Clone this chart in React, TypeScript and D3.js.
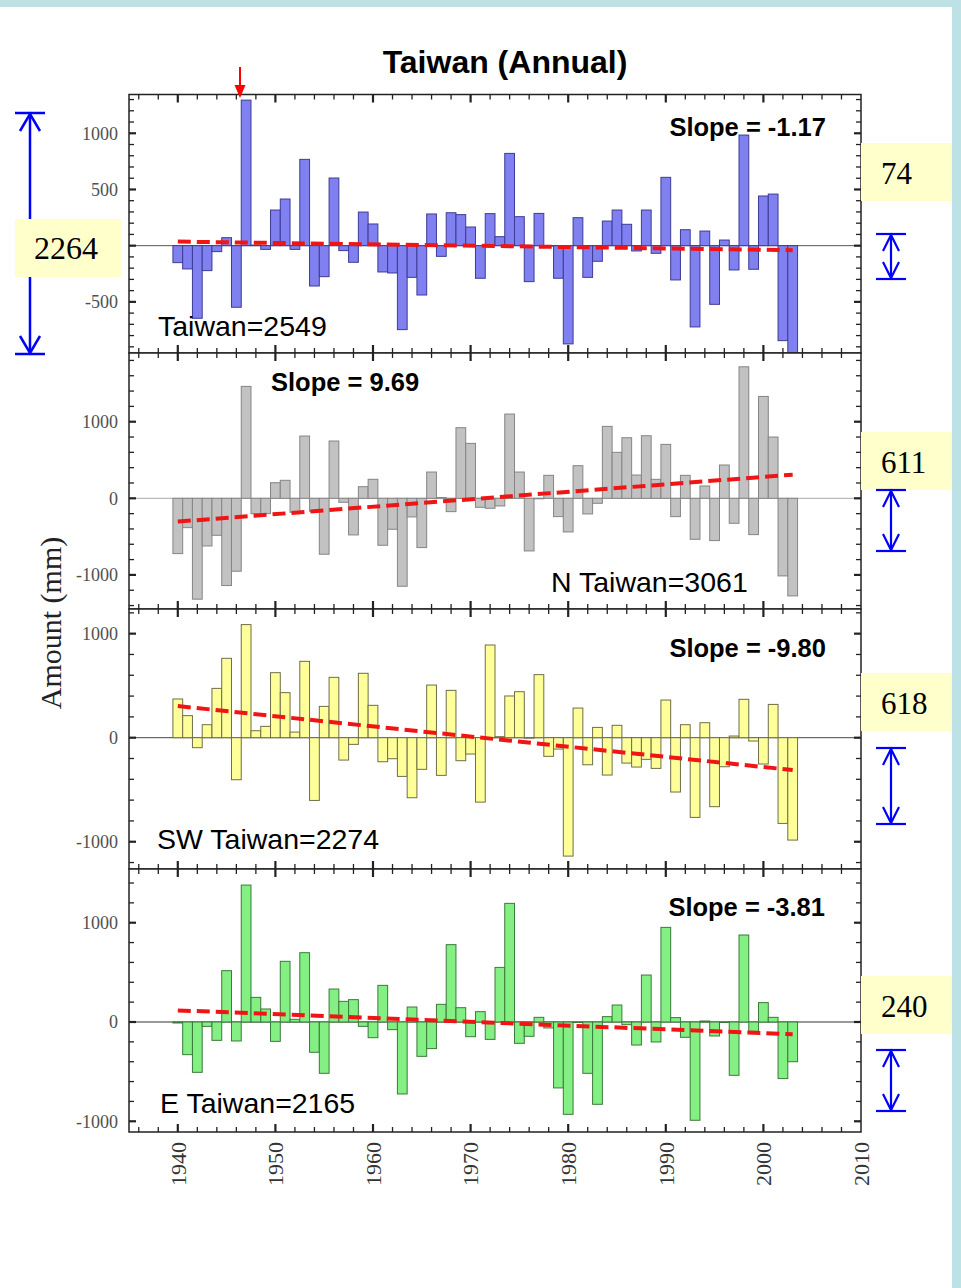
import React from 'react';
import * as d3 from 'd3';

// ---------------- data ----------------
const years = [
  1940, 1941, 1942, 1943, 1944, 1945, 1946, 1947, 1948, 1949,
  1950, 1951, 1952, 1953, 1954, 1955, 1956, 1957, 1958, 1959,
  1960, 1961, 1962, 1963, 1964, 1965, 1966, 1967, 1968, 1969,
  1970, 1971, 1972, 1973, 1974, 1975, 1976, 1977, 1978, 1979,
  1980, 1981, 1982, 1983, 1984, 1985, 1986, 1987, 1988, 1989,
  1990, 1991, 1992, 1993, 1994, 1995, 1996, 1997, 1998, 1999,
  2000, 2001, 2002, 2003,
];

const taiwanValues = [
  -151, -207, -646, -222, -53, 71, -548, 1295, 5, -33,
  317, 415, -33, 768, -359, -276, 602, -44, -148, 299,
  193, -234, -243, -747, -282, -439, 282, -95, 293, 276,
  166, -290, 285, 80, 821, 258, -320, 287, 0, -290,
  -874, 249, -282, -139, 219, 317, 190, -47, 317, -68,
  608, -305, 142, -723, 130, -522, 50, -216, 984, -210,
  442, 459, -845, -1000,
];

const northValues = [
  -722, -383, -1317, -622, -483, -1139, -952, 1461, -200, -200,
  204, 235, -183, 813, -170, -730, 748, -52, -478, 152,
  248, -613, -404, -1148, -243, -643, 343, 10, -174, 922,
  717, -117, -130, -100, 1100, 343, -687, 0, 300, -239,
  -439, 426, -204, -65, 939, 600, 791, 304, 817, 248,
  704, -239, 300, -535, 161, -552, 435, -326, 1717, -474,
  1330, 800, -1013, -1274,
];

const southwestValues = [
  372, 212, -96, 125, 474, 763, -404, 1087, 67, 109,
  625, 433, 54, 734, -603, 301, 580, -215, -64, 619,
  311, -231, -202, -372, -577, -304, 506, -362, 455, -221,
  -157, -619, 891, 10, 401, 442, 0, 606, -179, -109,
  -1138, 285, -260, 99, -359, 119, -244, -282, -208, -295,
  362, -522, 125, -766, 144, -663, -279, 16, 369, -32,
  -253, 320, -824, -984,
];

const eastValues = [
  -10, -329, -507, -44, -185, 517, -191, 1379, 248, 131,
  -195, 611, 27, 698, -305, -517, 332, 208, 225, -44,
  -158, 369, -77, -725, 151, -346, -268, 178, 779, 144,
  -148, 104, -175, 550, 1195, -215, -144, 47, -60, -664,
  -930, 0, -517, -829, 54, 171, -27, -232, 473, -201,
  953, 44, -154, -990, 10, -141, 0, -537, 876, -94,
  195, 47, -570, -400,
];

const regionLabels = ['Taiwan=2549', 'N Taiwan=3061', 'SW Taiwan=2274', 'E Taiwan=2165'];
const slopeLabels = ['Slope = -1.17', 'Slope = 9.69', 'Slope = -9.80', 'Slope = -3.81'];
const trendStart = [36, -304, 304, 117];
const trendEnd = [-40, 309, -311, -124];
const yTickLabels = [
  [1000, 500, -500],
  [1000, 0, -1000],
  [1000, 0, -1000],
  [1000, 0, -1000],
];
const xTickLabels = [1940, 1950, 1960, 1970, 1980, 1990, 2000, 2010];
const rangeLabel = '2264';
const changeLabels = ['74', '611', '618', '240'];
const chartTitle = 'Taiwan (Annual)';
const yAxisTitle = 'Amount (mm)';

const seriesList = [taiwanValues, northValues, southwestValues, eastValues];

// ---------------- layout ----------------
const W = 961;
const H = 1288;
const X0 = 129;
const X1 = 861;
const SANS = '"Liberation Sans", Arial, sans-serif';
const SERIF = '"Liberation Serif", "Times New Roman", serif';

const panelLayout = [
  { top: 94.5, bottom: 353, domain: [-955, 1345], minor: 100, major: 500,
    fill: '#8080f0', stroke: '#3c3c96', zero: '#555',
    slope: { x: 826, y: 136, anchor: 'end' }, region: { x: 158, y: 336 },
    arrow: [234, 279] },
  { top: 353, bottom: 609, domain: [-1445, 1897], minor: 200, major: 1000,
    fill: '#c2c2c2', stroke: '#858585', zero: '#aaa',
    slope: { x: 271, y: 391, anchor: 'start' }, region: { x: 551, y: 592 },
    arrow: [490, 551] },
  { top: 609, bottom: 869, domain: [-1262, 1237], minor: 200, major: 1000,
    fill: '#ffff99', stroke: '#6e6e48', zero: '#444',
    slope: { x: 826, y: 657, anchor: 'end' }, region: { x: 157, y: 849 },
    arrow: [748, 824] },
  { top: 869, bottom: 1132, domain: [-1108, 1541], minor: 200, major: 1000,
    fill: '#84f084', stroke: '#3a7a3a', zero: '#333',
    slope: { x: 825, y: 916, anchor: 'end' }, region: { x: 160, y: 1113 },
    arrow: [1050, 1111] },
];
const changeBoxTops = [143, 432, 673, 976];

const x = d3.scaleLinear().domain([1935, 2010]).range([X0, X1]);
const xMinorTicks = d3.range(1936, 2010, 2);

function Panel({ idx }: { idx: number }) {
  const L = panelLayout[idx];
  const values = seriesList[idx];
  const y = d3.scaleLinear().domain(L.domain).range([L.bottom, L.top]);
  const clipId = `clip${idx}`;
  const yMinor = d3.range(Math.ceil(L.domain[0] / L.minor) * L.minor, L.domain[1], L.minor);
  const trend = d3.line<[number, number]>().x((d) => x(d[0])).y((d) => y(d[1]));
  const trendPts: [number, number][] = [
    [years[0], trendStart[idx]],
    [years[years.length - 1], trendEnd[idx]],
  ];
  return (
    <g>
      <defs>
        <clipPath id={clipId}>
          <rect x={X0} y={L.top} width={X1 - X0} height={L.bottom - L.top} />
        </clipPath>
      </defs>
      <rect x={X0} y={L.top} width={X1 - X0} height={L.bottom - L.top} fill="#fff" />
      <line x1={X0} x2={X1} y1={y(0)} y2={y(0)} stroke={L.zero} strokeWidth={1} />
      <g clipPath={`url(#${clipId})`}>
        {years.map((yr, i) => {
          const v = values[i];
          const x0 = x(yr - 0.5);
          const x1 = x(yr + 0.5);
          const ya = y(Math.max(0, v));
          const yb = y(Math.min(0, v));
          return (
            <rect key={yr} x={x0} y={ya} width={x1 - x0} height={Math.max(0.5, yb - ya)}
              fill={L.fill} stroke={L.stroke} strokeWidth={1} />
          );
        })}
        <path d={trend(trendPts) || ''} fill="none" stroke="#f01414" strokeWidth={4}
          strokeDasharray="13 6" />
      </g>
      {/* frame */}
      <rect x={X0} y={L.top} width={X1 - X0} height={L.bottom - L.top} fill="none"
        stroke="#222" strokeWidth={1.5} />
      {/* x ticks top & bottom */}
      {xMinorTicks.map((t) => {
        const isMajor = t % 10 === 0;
        const len = isMajor ? 8 : 5;
        const sw = isMajor ? 2.2 : 1.3;
        return (
          <g key={t}>
            <line x1={x(t)} x2={x(t)} y1={L.top} y2={L.top + len} stroke="#222" strokeWidth={sw} />
            <line x1={x(t)} x2={x(t)} y1={L.bottom} y2={L.bottom - len} stroke="#222" strokeWidth={sw} />
          </g>
        );
      })}
      {/* y ticks left & right */}
      {yMinor.map((t) => {
        const isMajor = t % L.major === 0;
        const len = isMajor ? 7 : 5;
        const sw = isMajor ? 2.2 : 1.3;
        const yy = y(t);
        if (yy < L.top + 2 || yy > L.bottom - 2) return null;
        return (
          <g key={t}>
            <line x1={X0} x2={X0 + len} y1={yy} y2={yy} stroke="#222" strokeWidth={sw} />
            <line x1={X1} x2={X1 - len} y1={yy} y2={yy} stroke="#222" strokeWidth={sw} />
          </g>
        );
      })}
      {yTickLabels[idx].map((t) => (
        <text key={t} x={118} y={y(t)} dy="0.35em" textAnchor="end" fontFamily={SERIF}
          fontSize={18} fill="#505050">{t}</text>
      ))}
      <text x={L.slope.x} y={L.slope.y} textAnchor={L.slope.anchor} fontFamily={SANS}
        fontWeight="bold" fontSize={25.5} fill="#000">{slopeLabels[idx]}</text>
      <text x={L.region.x} y={L.region.y} fontFamily={SANS} fontSize={28.5} fill="#000">
        {regionLabels[idx]}</text>
    </g>
  );
}

function DoubleArrow({ cx, y1, y2, half, head, headW, sw }: any) {
  return (
    <g stroke="#0000ff" strokeWidth={sw} fill="none">
      <line x1={cx - half} x2={cx + half} y1={y1} y2={y1} />
      <line x1={cx - half} x2={cx + half} y1={y2} y2={y2} />
      <line x1={cx} x2={cx} y1={y1} y2={y2} />
      <polyline points={`${cx - headW},${y1 + head} ${cx},${y1 + 1} ${cx + headW},${y1 + head}`} />
      <polyline points={`${cx - headW},${y2 - head} ${cx},${y2 - 1} ${cx + headW},${y2 - head}`} />
    </g>
  );
}

export default function App() {
  return (
    <svg width={W} height={H} style={{ position: 'absolute', left: 0, top: 0 }}
      xmlns="http://www.w3.org/2000/svg">
      <rect x={0} y={0} width={W} height={H} fill="#fff" />
      <rect x={0} y={0} width={W} height={7} fill="#bde2e5" />
      <rect x={952} y={0} width={W - 952} height={H} fill="#bde2e5" />

      <text x={505} y={73} textAnchor="middle" fontFamily={SANS} fontWeight="bold"
        fontSize={32} fill="#000">{chartTitle}</text>

      {panelLayout.map((_, i) => <Panel key={i} idx={i} />)}

      {/* x labels */}
      {xTickLabels.map((t) => (
        <text key={t} transform={`translate(${x(t)},1142) rotate(-90)`} textAnchor="end"
          dy="0.35em" fontFamily={SERIF} fontSize={22} fill="#333">{t}</text>
      ))}

      <text transform="translate(61,623) rotate(-90)" textAnchor="middle" fontFamily={SERIF}
        fontSize={30} fill="#222">{yAxisTitle}</text>

      {/* red arrow marking 1947 */}
      <line x1={240} x2={240} y1={67} y2={88} stroke="#ff0000" strokeWidth={2} />
      <polygon points="234.5,85 245.5,85 240,98" fill="#ff0000" />

      {/* left range annotation */}
      <DoubleArrow cx={30} y1={113} y2={354} half={15} head={18} headW={10} sw={2.5} />
      <rect x={15} y={219} width={106} height={58} fill="#ffffcc" />
      <text x={66} y={259} textAnchor="middle" fontFamily={SERIF} fontSize={32} fill="#000">
        {rangeLabel}</text>

      {/* right change annotations */}
      {changeLabels.map((lab, i) => (
        <g key={lab}>
          <rect x={861} y={changeBoxTops[i]} width={91} height={58} fill="#ffffcc" />
          <text x={881} y={changeBoxTops[i] + 41} fontFamily={SERIF} fontSize={31} fill="#000">
            {lab}</text>
          <DoubleArrow cx={891} y1={panelLayout[i].arrow[0]} y2={panelLayout[i].arrow[1]}
            half={15} head={17} headW={8} sw={2.2} />
        </g>
      ))}
    </svg>
  );
}
